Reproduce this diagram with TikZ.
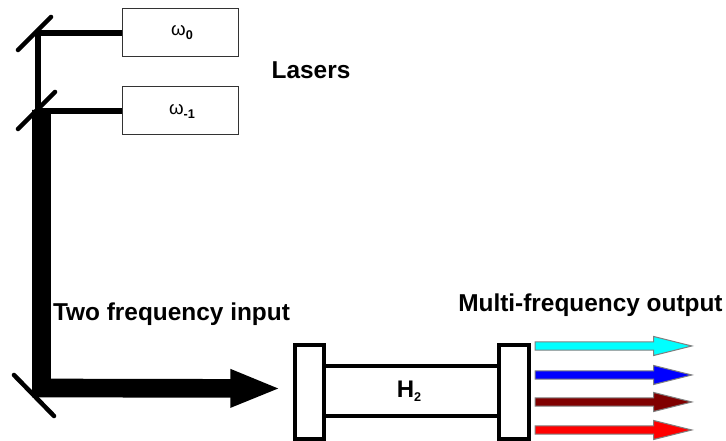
\documentclass[tikz,border=0pt]{standalone}
\usepackage{fontspec}
\setmainfont{Liberation Sans}
\usetikzlibrary{arrows.meta, positioning, shapes.arrows}

\definecolor{beamcyan}{RGB}{0,255,255}
\definecolor{beamblue}{RGB}{0,0,255}
\definecolor{beammaroon}{RGB}{128,0,0}
\definecolor{beamred}{RGB}{255,0,0}

\tikzset{
    laserbox/.style={draw=black!80, line width=0.75pt, minimum width=87pt, minimum height=36pt, inner sep=0pt},
    mirrorline/.style={line width=3.4pt, line cap=round},
    thinbeam/.style={line width=4pt},
    fatbeam/.style={line width=14pt},
    cellend/.style={draw, line width=3.2pt, fill=white, minimum width=22pt, minimum height=71pt, inner sep=0pt},
    cellwall/.style={line width=3pt},
    outarrow/.style={single arrow, draw=black!50, line width=0.8pt, minimum height=117.5pt, anchor=tip,
        single arrow head extend=4pt, single arrow tip angle=28, inner sep=0pt},
    lbl/.style={font=\bfseries\fontsize{18.3}{20}\selectfont, inner sep=0pt},
    freq/.style={font=\fontsize{14}{16}\selectfont}
}
\newcommand{\lowidx}[1]{{\fontsize{9.5}{9.5}\selectfont\bfseries\raisebox{-3pt}{#1}}}
\newcommand{\shaftstrut}{\rule{0pt}{5.5pt}}

\begin{document}
\begin{tikzpicture}[x=0.75pt, y=-0.75pt]
    \useasboundingbox (0,0) rectangle (726,441);

    % Lasers
    \node[laserbox, freq] (lasera) at (180,33) {\hspace{3pt}ω\lowidx{0}};
    \node[laserbox, freq] (laserb) at (180,111) {\hspace{3pt}ω\lowidx{-1}};
    \node[lbl] (lasers) at (311,70) {Lasers};

    % Mirrors
    \coordinate (ma1) at (18,50);
    \coordinate (ma2) at (51,17);
    \coordinate (mb1) at (18,129);
    \coordinate (mb2) at (55,92);
    \coordinate (mc1) at (14,375);
    \coordinate (mc2) at (54,416);
    \coordinate (turna) at (38,33);
    \coordinate (turnb) at (38,111);
    \coordinate (turnc) at (41.5,388);
    \coordinate (fattop) at (41.5,110);
    \draw[mirrorline] (ma1) -- (ma2);
    \draw[mirrorline] (mb1) -- (mb2);
    \draw[mirrorline] (mc1) -- (mc2);

    % Beams
    \draw[thinbeam] (lasera.west) -- (turna) -- (turnb);
    \draw[thinbeam] (laserb.west) -- (turnb);
    \node[lbl] (twofreq) at (171.5,314) {Two frequency input};

    % Cell
    \node[cellend] (cellin) at (309.5,392) {};
    \node[cellend] (cellout) at (514,392) {};
    \draw[cellwall] (cellin.east |- 0,366) coordinate (wa) -- (cellout.west |- wa);
    \draw[cellwall] (cellin.east |- 0,416) coordinate (wb) -- (cellout.west |- wb);
    \node[font=\bfseries\fontsize{18}{20}\selectfont, inner sep=0pt] (gas) at (409,391) {H\lowidx{2}};

    % Input
    \coordinate (inend) at (281,388.5);
    \draw[fatbeam, -{Triangle[length=38pt, width=26pt]}] (fattop) -- (turnc) -- (inend);

    % Output
    \node[lbl, anchor=west] (multi) at (458,305) {Multi-frequency output};
    \node[outarrow, fill=beamcyan] (outa) at (694,346) {\shaftstrut};
    \node[outarrow, fill=beamblue] (outb) at (694,375) {\shaftstrut};
    \node[outarrow, fill=beammaroon] (outc) at (694,402) {\shaftstrut};
    \node[outarrow, fill=beamred] (outd) at (694,430) {\shaftstrut};
\end{tikzpicture}
\end{document}
